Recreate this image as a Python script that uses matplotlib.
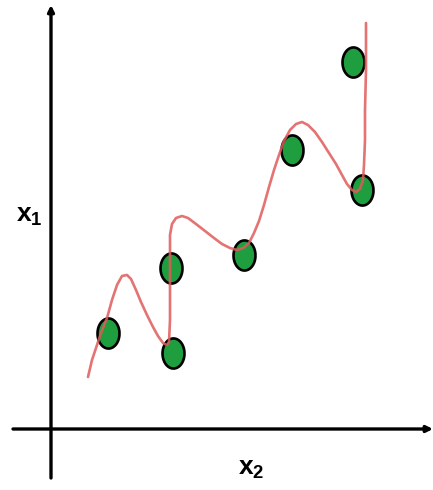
"""Overfitting sketch: a wiggly decision curve threaded through every sample."""

import numpy as np
import matplotlib

matplotlib.use("Agg")
import matplotlib.pyplot as plt

plt.rcParams["mathtext.fontset"] = "custom"
plt.rcParams["mathtext.bf"] = "Liberation Sans:bold"
plt.rcParams["mathtext.rm"] = "Liberation Sans:bold"

# samples (x2, x1)
pts_x = [1.425, 3.00, 3.05, 4.825, 6.025, 7.55, 7.775]
pts_y = [2.40, 4.025, 1.90, 4.35, 6.975, 9.175, 5.975]

# hand-drawn overfit curve
curve_x = [0.925, 1.025, 1.15, 1.25, 1.40, 1.525, 1.65, 1.775, 1.90, 2.00,
           2.125, 2.25, 2.40, 2.55, 2.675, 2.80, 2.90, 2.95, 2.975, 2.975,
           2.975, 2.975, 3.025, 3.125, 3.275, 3.425, 3.625, 3.85, 4.075, 4.275,
           4.475, 4.65, 4.80, 4.95, 5.075, 5.20, 5.325, 5.45, 5.575, 5.70,
           5.825, 5.975, 6.125, 6.275, 6.425, 6.60, 6.775, 6.95, 7.125, 7.275,
           7.40, 7.525, 7.625, 7.725, 7.80, 7.825, 7.85, 7.85, 7.875, 7.875]
curve_y = [1.30, 1.725, 2.10, 2.40, 2.775, 3.225, 3.60, 3.825, 3.85, 3.75,
           3.475, 3.175, 2.85, 2.55, 2.325, 2.15, 2.10, 2.175, 2.725, 3.475,
           4.225, 4.85, 5.125, 5.275, 5.325, 5.275, 5.125, 4.95, 4.775, 4.625,
           4.525, 4.475, 4.525, 4.65, 4.90, 5.20, 5.60, 6.05, 6.475, 6.85,
           7.20, 7.475, 7.625, 7.675, 7.60, 7.425, 7.175, 6.90, 6.625, 6.35,
           6.125, 5.975, 5.925, 6.00, 6.225, 6.60, 7.225, 7.975, 8.975, 10.15]

fig = plt.figure(figsize=(4.33, 4.90), dpi=100)
ax = fig.add_axes([0, 0, 1, 1])
ax.set_xlim(-1.275, 9.55)
ax.set_ylim(-1.525, 10.725)
ax.axis("off")

# axes with arrow heads, crossing at the origin
arrow = dict(arrowstyle="-|>", lw=2.4, color="black", mutation_scale=9,
             shrinkA=0, shrinkB=0)
ax.annotate("", xy=(0, 10.6), xytext=(0, -1.225), arrowprops=arrow)
ax.annotate("", xy=(9.55, 0), xytext=(-0.95, 0), arrowprops=arrow)

# upright ellipse marker
t = np.linspace(0, 2 * np.pi, 60)
ellipse = np.column_stack([0.73 * np.cos(t), np.sin(t)])
ax.scatter(pts_x, pts_y, s=470, marker=ellipse, facecolor="#1e9e3e",
           edgecolor="black", linewidth=1.9, zorder=3)

ax.plot(curve_x, curve_y, color="#e05a5a", lw=1.9, alpha=0.85,
        solid_joinstyle="round", solid_capstyle="round", zorder=4)

ax.text(-0.53, 5.35, r"$\mathbf{x}_\mathbf{1}$", fontsize=19,
        ha="center", va="center")
ax.text(5.0, -0.97, r"$\mathbf{x}_\mathbf{2}$", fontsize=19,
        ha="center", va="center")

fig.savefig("out.png", dpi=100)
